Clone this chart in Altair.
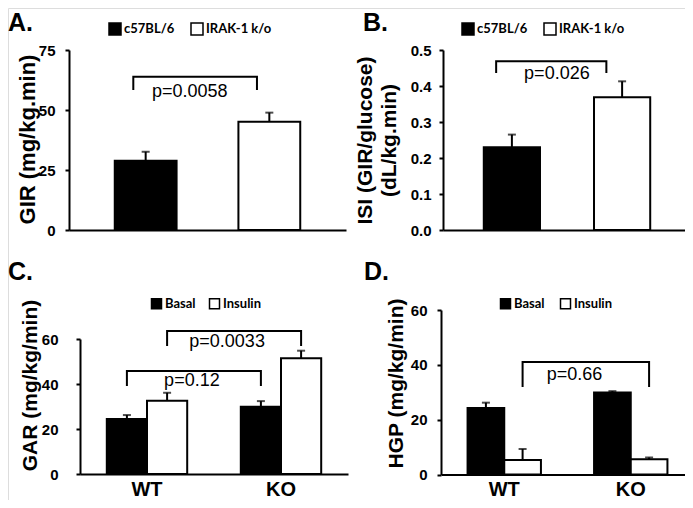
import altair as alt
import pandas as pd

# ---------------- data ----------------
# Panel A: GIR
a_groups = ["c57BL/6", "IRAK-1 k/o"]
a_mean = [28.9, 45.1]
a_sem = [3.7, 3.8]
a_bracket = [58.3, 63.9]          # [drop level, top level]
a_p = "p=0.0058"

# Panel B: ISI
b_groups = ["c57BL/6", "IRAK-1 k/o"]
b_mean = [0.23, 0.369]
b_sem = [0.035, 0.044]
b_bracket = [0.436, 0.469]
b_p = "p=0.026"

# Panels C/D
cd_groups = ["WT", "KO"]
cd_series = ["Basal", "Insulin"]

c_basal = [24.4, 29.9]
c_basal_sem = [1.8, 2.5]
c_insulin = [32.6, 51.4]
c_insulin_sem = [3.5, 3.4]
c_bracket_basal = [39.1, 45.8]
c_p_basal = "p=0.12"
c_bracket_insulin = [56.9, 63.6]
c_p_insulin = "p=0.0033"

d_basal = [24.3, 29.9]
d_basal_sem = [1.9, 0.5]
d_insulin = [5.3, 5.6]
d_insulin_sem = [4.0, 0.6]
d_bracket_insulin = [31.9, 41.0]
d_p_insulin = "p=0.66"

panel_labels = ["A.", "B.", "C.", "D."]

# ---------------- style / layout ----------------
W, H = 677, 492
SANS = "Liberation Sans"
LEG = "Lato"


def yaxis(title, values, fmt, offset, tx, ty, lpad, tsize):
    return alt.Axis(
        title=title, values=values, format=fmt, orient="left", offset=offset,
        grid=False, domainColor="black", domainWidth=2, tickColor="black",
        tickWidth=2, tickSize=4, labelFont=SANS, labelFontWeight="bold",
        labelFontSize=15, labelColor="black", labelPadding=lpad,
        titleFont=SANS, titleFontWeight="bold", titleFontSize=tsize,
        titleColor="black", titleX=tx, titleY=ty, titleAngle=270,
        titleAlign="center", titleBaseline="middle", titleLineHeight=24)


def xaxis(offset, labels):
    return alt.Axis(
        title=None, orient="bottom", offset=offset, grid=False,
        domainColor="black", domainWidth=2, ticks=False, labels=labels,
        labelFont=SANS, labelFontWeight="bold", labelFontSize=20,
        labelColor="black", labelPadding=21, labelBaseline="alphabetic",
        labelAngle=0)


def legend(x, y, fsize, ssize, colpad):
    return alt.Legend(
        orient="none", legendX=x, legendY=y, direction="horizontal",
        title=None, symbolType="square", symbolSize=ssize,
        symbolStrokeColor="black", symbolStrokeWidth=1.5,
        labelFont=LEG, labelFontWeight="bold", labelFontSize=fsize,
        labelColor="black", labelOffset=2, columnPadding=colpad, padding=0)


def simple_panel(groups, means, sems, bracket, ptxt, xr, yr, pi, po, ydom,
                 yvals, yfmt, ytitle, yoff, xoff, tx, ty, lpad, tsize,
                 leg, bpos, pdx, pdy):
    df = pd.DataFrame({"grp": groups, "val": means,
                       "val2": [m + s for m, s in zip(means, sems)]})
    xs = alt.Scale(domain=groups, range=xr, paddingInner=pi, paddingOuter=po)
    ys = alt.Scale(domain=ydom, range=yr, nice=False)
    ya = yaxis(ytitle, yvals, yfmt, yoff, tx, ty, lpad, tsize)
    xa = xaxis(xoff, False)
    X = alt.X("grp:N", scale=xs, axis=xa)
    bars = alt.Chart(df).mark_bar(stroke="black", strokeWidth=2).encode(
        x=X, y=alt.Y("val:Q", scale=ys, axis=ya),
        fill=alt.Fill("grp:N", scale=alt.Scale(domain=groups, range=["black", "white"]),
                      legend=leg))
    err = alt.Chart(df).mark_rule(color="black", strokeWidth=2).encode(
        x=X, y=alt.Y("val:Q", scale=ys, axis=ya), y2="val2:Q")
    cap = alt.Chart(df).mark_tick(color="black", thickness=2, size=8).encode(
        x=X, y=alt.Y("val2:Q", scale=ys, axis=ya))
    bdf = pd.DataFrame({"grp": [groups[0], groups[0], groups[1], groups[1]],
                        "val": [bracket[0], bracket[1], bracket[1], bracket[0]],
                        "ord": [0, 1, 2, 3]})
    br = alt.Chart(bdf).mark_line(color="black", strokeWidth=2).encode(
        x=alt.X("grp:N", scale=xs, axis=xa, bandPosition=bpos),
        y=alt.Y("val:Q", scale=ys, axis=ya), order="ord:Q")
    pdf = pd.DataFrame({"grp": [groups[0]], "val": [bracket[1]], "t": [ptxt]})
    pt = alt.Chart(pdf).mark_text(font=SANS, fontSize=18, color="black",
                                  baseline="top", align="center", dx=pdx, dy=pdy).encode(
        x=X, y=alt.Y("val:Q", scale=ys, axis=ya), text="t:N")
    return alt.layer(bars, err, cap, br, pt)


def grouped_panel(basal, basal_sem, insulin, insulin_sem, brackets, xr, yr,
                  pi, po, ytitle, yoff, xoff, tx, ty, lpad, leg):
    rows = []
    for g, m, s in zip(cd_groups, basal, basal_sem):
        rows.append({"grp": g, "ser": "Basal", "val": m, "val2": m + s})
    for g, m, s in zip(cd_groups, insulin, insulin_sem):
        rows.append({"grp": g, "ser": "Insulin", "val": m, "val2": m + s})
    df = pd.DataFrame(rows)
    xs = alt.Scale(domain=cd_groups, range=xr, paddingInner=pi, paddingOuter=po)
    os_ = alt.Scale(domain=cd_series, paddingInner=0, paddingOuter=0)
    ys = alt.Scale(domain=[0, 60], range=yr, nice=False)
    ya = yaxis(ytitle, [0, 20, 40, 60], "d", yoff, tx, ty, lpad, 21)
    xa = xaxis(xoff, True)
    X = alt.X("grp:N", scale=xs, axis=xa)
    XO = alt.XOffset("ser:N", scale=os_)
    bars = alt.Chart(df).mark_bar(stroke="black", strokeWidth=2).encode(
        x=X, xOffset=XO, y=alt.Y("val:Q", scale=ys, axis=ya),
        fill=alt.Fill("ser:N", scale=alt.Scale(domain=cd_series, range=["black", "white"]),
                      legend=leg))
    err = alt.Chart(df).mark_rule(color="black", strokeWidth=2).encode(
        x=X, xOffset=XO, y=alt.Y("val:Q", scale=ys, axis=ya), y2="val2:Q")
    cap = alt.Chart(df).mark_tick(color="black", thickness=2, size=8).encode(
        x=X, xOffset=XO, y=alt.Y("val2:Q", scale=ys, axis=ya))
    layers = [bars, err, cap]
    for ser, lv, ptxt, pdx, pdy in brackets:
        bdf = pd.DataFrame({"grp": [cd_groups[0], cd_groups[0], cd_groups[1], cd_groups[1]],
                            "ser": [ser] * 4,
                            "val": [lv[0], lv[1], lv[1], lv[0]],
                            "ord": [0, 1, 2, 3]})
        layers.append(alt.Chart(bdf).mark_line(color="black", strokeWidth=2).encode(
            x=X, xOffset=XO, y=alt.Y("val:Q", scale=ys, axis=ya), order="ord:Q"))
        pdf = pd.DataFrame({"grp": [cd_groups[0]], "ser": [ser], "val": [lv[1]], "t": [ptxt]})
        layers.append(alt.Chart(pdf).mark_text(font=SANS, fontSize=18, color="black",
                                               baseline="top", align="center",
                                               dx=pdx, dy=pdy).encode(
            x=X, xOffset=XO, y=alt.Y("val:Q", scale=ys, axis=ya), text="t:N"))
    return alt.layer(*layers)


pA = simple_panel(a_groups, a_mean, a_sem, a_bracket, a_p,
                  xr=[61, 338], yr=[222, 42], pi=0.5, po=0.37, ydom=[0, 75],
                  yvals=[0, 25, 50, 75], yfmt="d", ytitle="GIR (mg/kg.min)",
                  yoff=-61, xoff=-270, tx=-42, ty=131, lpad=10, tsize=22,
                  leg=legend(100, 14, 13, 144, 13), bpos=0.3, pdx=44, pdy=6)

pB = simple_panel(b_groups, b_mean, b_sem, b_bracket, b_p,
                  xr=[435, 683], yr=[222, 42], pi=0.49, po=0.37, ydom=[0, 0.5],
                  yvals=[0, 0.1, 0.2, 0.3, 0.4, 0.5], yfmt=".1f",
                  ytitle=["ISI (GIR/glucose)", "(dL/kg.min)"],
                  yoff=-435, xoff=-270, tx=-78, ty=132, lpad=8, tsize=21,
                  leg=legend(453, 14, 13, 144, 13), bpos=0.22, pdx=45, pdy=4)

pC = grouped_panel(c_basal, c_basal_sem, c_insulin, c_insulin_sem,
                   [("Basal", c_bracket_basal, c_p_basal, 65, 1),
                    ("Insulin", c_bracket_insulin, c_p_insulin, 60, 2)],
                   xr=[72, 340], yr=[466, 331], pi=0.4, po=0.2,
                   ytitle="GAR (mg/kg/min)", yoff=-72, xoff=-26, tx=-50, ty=377,
                   lpad=18, leg=legend(142, 289, 13, 100, 10))

pD = grouped_panel(d_basal, d_basal_sem, d_insulin, d_insulin_sem,
                   [("Insulin", d_bracket_insulin, d_p_insulin, 52, 4)],
                   xr=[433, 686], yr=[466.5, 302], pi=0.42, po=0.21,
                   ytitle="HGP (mg/kg/min)", yoff=-433, xoff=-25.5, tx=-45, ty=375,
                   lpad=10, leg=legend(491, 289, 13, 100, 12))

lab_x = [0, 355, 0, 356]
lab_y = [23, 23, 272, 272]
label_layers = [
    alt.Chart(pd.DataFrame({"t": [t]})).mark_text(
        font=SANS, fontWeight="bold", fontSize=25, color="black",
        align="left", baseline="alphabetic").encode(
        text="t:N", x=alt.value(lx), y=alt.value(ly))
    for t, lx, ly in zip(panel_labels, lab_x, lab_y)
]

chart = alt.layer(pA, pB, pC, pD, *label_layers).resolve_scale(
    x="independent", y="independent", fill="independent", xOffset="independent"
).resolve_axis(x="independent", y="independent").resolve_legend(
    fill="independent"
).properties(
    width=W, height=H, autosize=alt.AutoSizeParams(type="none"), padding=0
).configure_view(stroke=None).configure(background="white")

chart.save("out.html", embed_options={"renderer": "svg", "actions": False})
